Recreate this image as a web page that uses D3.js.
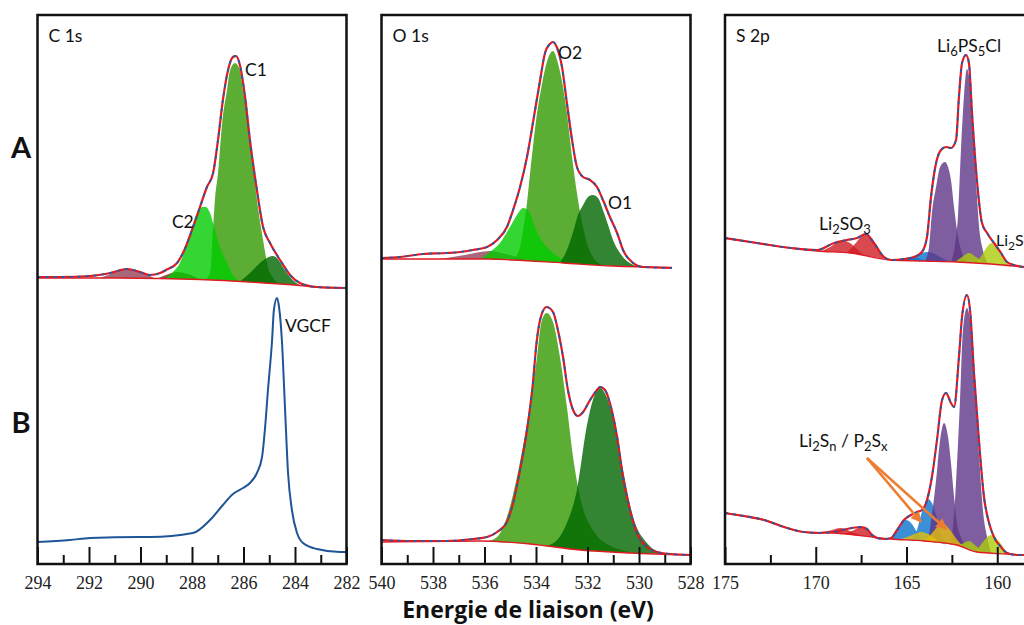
<!DOCTYPE html>
<html><head><meta charset="utf-8">
<script src="https://cdn.jsdelivr.net/npm/d3@7"></script>
<style>
body{margin:0;background:#fff;}
svg{display:block;}
</style></head><body>
<svg id="chart" width="1024" height="625"></svg>
<script>
// ================= DATA (binding energy eV, intensity a.u.) =================
const c1sTicks = [294,292,290,288,286,284,282];
const c1sMinor = [293,291,289,287,285,283];
const o1sTicks = [540,538,536,534,532,530,528];
const o1sMinor = [539,537,535,533,531,529];
const s2pTicks = [175,170,165,160];
const s2pMinor = [172.5,167.5,162.5];

// ---- C 1s, row A ----
const c1sA_env = [[294.00,9.2],[293.13,9.2],[291.96,9.6],[291.18,10.8],[290.52,12.4],[290.02,11.2],[289.63,10.0],[289.24,10.8],[289.01,12.0],[288.58,14.8],[288.35,18.8],[287.96,29.2],[287.69,37.2],[287.42,45.2],[287.18,50.8],[286.99,64.0],[286.80,80.0],[286.60,92.0],[286.41,97.2],[286.29,97.6],[286.14,94.0],[285.94,81.2],[285.75,64.0],[285.48,44.0],[285.24,29.2],[284.97,22.8],[284.58,16.0],[284.19,10.0],[283.81,6.8],[283.15,5.2],[282.00,4.8]];
const c1sA_base = [[294.0,8.8],[290.8,8.8],[287.69,8.2],[285.75,7.2],[283.81,5.8],[283.03,5.0],[282.0,4.8]];
const c1sA_C1 = [[287.50,8.2],[287.30,10.8],[287.18,29.2],[287.11,40.0],[286.99,50.8],[286.83,70.8],[286.64,84.0],[286.52,92.0],[286.33,94.8],[286.14,92.0],[286.02,84.0],[285.83,70.8],[285.63,53.2],[285.44,37.2],[285.24,24.0],[285.05,13.2],[284.85,8.8],[284.58,7.6]];
const c1sA_C2 = [[289.05,8.8],[288.74,11.2],[288.47,14.8],[288.19,22.8],[288.00,29.2],[287.81,34.8],[287.61,37.2],[287.46,37.2],[287.30,34.8],[287.11,28.0],[286.91,21.2],[286.64,14.8],[286.41,10.0],[286.14,7.6]];
const c1sA_C3 = [[286.14,7.6],[285.75,10.8],[285.36,14.8],[285.09,16.8],[284.89,17.6],[284.70,16.8],[284.47,13.2],[284.19,9.2],[283.81,6.0],[283.53,5.2]];
const c1sA_C4 = [[291.57,8.8],[291.07,10.8],[290.52,12.4],[290.02,11.2],[289.63,9.6],[289.44,8.8]];
const c1sA_C5 = [[289.36,8.6],[289.01,10.0],[288.58,11.2],[288.16,10.4],[287.69,8.8]];

// ---- C 1s, row B (VGCF) ----
const c1sB_env = [[294.00,9.2],[292.74,10.0],[291.96,10.8],[290.02,11.2],[289.63,11.2],[287.96,12.8],[287.30,18.0],[286.80,24.0],[286.41,28.4],[286.02,30.8],[285.75,32.8],[285.48,36.8],[285.28,43.2],[285.17,54.0],[285.05,70.0],[284.89,90.0],[284.82,102.0],[284.70,106.8],[284.62,103.2],[284.51,90.0],[284.39,63.2],[284.27,36.8],[284.12,22.0],[283.92,12.8],[283.69,8.8],[283.15,6.4],[282.25,5.2],[282.00,5.2]];

// ---- O 1s, row A ----
const o1sA_env = [[540.00,16.8],[539.28,17.2],[538.39,18.4],[537.46,18.8],[536.95,19.2],[536.45,20.0],[535.90,21.2],[535.51,24.0],[535.13,29.2],[534.89,36.0],[534.62,45.2],[534.35,57.2],[534.12,70.8],[533.84,88.0],[533.65,98.8],[533.46,102.4],[533.34,103.2],[533.18,100.8],[532.99,93.2],[532.80,78.8],[532.60,64.0],[532.41,53.2],[532.17,49.2],[531.90,48.0],[531.63,45.2],[531.40,40.0],[531.13,33.2],[530.85,26.8],[530.62,20.0],[530.23,14.8],[529.84,13.2],[528.72,12.8]];
const o1sA_base = [[540.00,16.4],[535.79,16.4],[534.89,16.0],[532.95,14.8],[531.01,13.6],[528.72,13.0]];
const o1sA_O2 = [[534.89,16.0],[534.62,21.2],[534.50,28.0],[534.35,38.8],[534.23,50.8],[534.12,61.2],[533.98,73.2],[533.79,85.2],[533.59,94.8],[533.34,99.6],[533.15,94.8],[532.95,85.2],[532.80,74.8],[532.60,57.2],[532.41,42.8],[532.21,30.8],[532.02,22.8],[531.79,17.2],[531.40,14.8]];
const o1sA_O3 = [[536.17,17.6],[535.79,19.2],[535.40,22.8],[535.01,29.2],[534.74,34.0],[534.50,36.8],[534.23,34.8],[534.04,29.2],[533.79,24.0],[533.46,20.0],[533.07,16.8],[532.68,15.2]];
const o1sA_O1 = [[533.07,16.0],[532.80,20.0],[532.56,27.2],[532.37,34.0],[532.17,38.0],[531.98,41.2],[531.79,42.0],[531.59,40.8],[531.40,36.0],[531.20,30.0],[531.01,24.0],[530.74,18.8],[530.47,15.6],[529.96,13.2]];
const o1sA_O4 = [[537.73,16.4],[536.76,18.0],[535.79,19.6],[535.34,18.8],[534.62,16.8],[534.23,16.0]];

// ---- O 1s, row B ----
const o1sB_env = [[540.00,10.0],[538.78,9.6],[537.46,9.6],[536.45,10.4],[535.90,11.2],[535.51,13.2],[535.13,17.2],[534.89,24.8],[534.62,38.0],[534.35,54.0],[534.12,72.8],[533.98,88.8],[533.79,100.0],[533.59,103.2],[533.34,101.2],[533.15,94.0],[532.95,83.2],[532.76,70.0],[532.56,62.0],[532.37,59.6],[532.17,61.2],[531.90,66.0],[531.63,70.0],[531.51,71.2],[531.32,70.0],[531.13,64.8],[530.85,51.2],[530.62,35.2],[530.35,22.0],[530.08,12.8],[529.69,7.2],[529.30,5.2],[528.80,4.4],[528.00,4.0]];
const o1sB_base = [[540.00,9.2],[536.17,9.6],[534.23,8.4],[532.29,6.0],[530.35,4.8],[528.00,4.0]];
const o1sB_O2 = [[535.90,9.2],[535.51,11.2],[535.13,19.2],[534.74,35.2],[534.35,56.8],[533.96,83.2],[533.79,97.2],[533.59,100.8],[533.34,97.2],[533.07,83.2],[532.80,63.2],[532.56,43.2],[532.29,27.2],[531.79,14.0],[531.01,7.2],[530.54,5.6],[530.20,4.7]];
const o1sB_O1 = [[533.60,8.0],[533.18,10.0],[532.80,16.8],[532.41,30.0],[532.02,56.0],[531.79,66.0],[531.51,70.8],[531.24,66.8],[531.01,59.2],[530.62,38.0],[530.23,19.2],[529.69,8.8],[529.07,4.8],[528.70,4.2]];

// ---- S 2p, row A ----
const s2pA_env = [[175.00,24.8],[173.24,22.8],[171.36,20.8],[169.93,20.0],[168.99,22.8],[168.28,24.0],[167.73,24.8],[167.23,26.4],[166.79,22.8],[166.24,17.2],[165.85,16.0],[165.14,16.4],[164.59,17.2],[164.15,19.2],[163.87,25.2],[163.65,41.2],[163.37,54.8],[163.10,60.0],[162.82,61.2],[162.55,60.8],[162.27,64.0],[162.11,81.2],[161.94,94.8],[161.72,98.0],[161.56,94.8],[161.39,74.8],[161.12,48.0],[160.84,30.8],[160.56,26.8],[160.18,22.8],[159.79,18.8],[159.46,15.2],[159.08,14.0],[158.53,13.2]];
const s2pA_base = [[175.00,24.8],[173.24,22.8],[171.36,20.8],[169.93,19.6],[168.11,18.8],[165.85,16.0],[164.04,15.6],[162.22,15.2],[160.34,14.4],[158.53,13.2]];
const s2pA_red1 = [[169.71,19.6],[169.21,21.2],[168.77,23.2],[168.44,23.6],[168.11,22.8],[167.73,20.4],[167.34,18.4]];
const s2pA_red2 = [[168.28,18.8],[167.84,22.4],[167.51,25.2],[167.23,26.4],[166.96,24.8],[166.63,21.2],[166.24,17.6],[165.91,16.4]];
const s2pA_blue2 = [[165.47,16.0],[165.08,16.8],[164.70,17.2],[164.37,16.8],[163.98,15.6]];
const s2pA_blue1 = [[165.08,16.0],[164.53,17.6],[164.15,18.8],[163.87,19.2],[163.54,18.8],[163.15,17.2],[162.60,15.6]];
const s2pA_P1 = [[163.98,15.6],[163.76,21.2],[163.60,34.8],[163.37,45.2],[163.15,53.2],[162.88,55.2],[162.71,53.2],[162.55,48.0],[162.38,37.2],[162.22,28.0],[161.94,18.8],[161.67,16.0]];
const s2pA_P2 = [[162.55,15.6],[162.33,22.0],[162.16,34.0],[162.00,60.0],[161.83,82.0],[161.67,92.4],[161.50,86.0],[161.34,70.0],[161.17,48.0],[161.01,30.0],[160.79,20.0],[160.51,15.6]];
const s2pA_YG1 = [[162.33,15.2],[161.94,17.2],[161.56,18.8],[161.17,17.2],[160.73,14.8]];
const s2pA_YG2 = [[161.17,14.8],[160.84,18.0],[160.56,21.2],[160.34,22.8],[160.07,21.2],[159.74,17.6],[159.30,14.4]];

// ---- S 2p, row B ----
const s2pB_env = [[175.00,20.8],[173.95,19.6],[172.85,18.0],[171.75,15.2],[170.65,13.2],[169.93,12.8],[168.99,13.2],[168.28,14.4],[167.51,15.2],[167.18,14.4],[166.79,11.2],[166.24,10.4],[165.85,10.8],[165.52,14.0],[165.14,18.0],[164.75,20.0],[164.42,21.2],[164.15,22.0],[163.87,26.0],[163.60,35.2],[163.32,50.0],[163.04,66.0],[162.82,68.8],[162.55,64.8],[162.38,63.2],[162.11,83.2],[161.94,99.2],[161.67,108.0],[161.50,102.0],[161.28,76.8],[161.01,50.0],[160.73,27.2],[160.45,16.8],[160.18,11.2],[159.79,7.2],[159.46,4.8],[158.91,4.0],[158.53,4.0]];
const s2pB_base = [[175.00,20.8],[172.85,18.0],[170.65,13.2],[168.99,12.8],[165.85,10.4],[164.04,9.6],[162.22,8.0],[161.12,5.2],[159.46,4.4],[158.53,4.0]];
const s2pB_red1 = [[170.04,12.4],[169.33,13.6],[168.61,14.8],[168.00,13.2],[167.45,12.0]];
const s2pB_red2 = [[168.39,12.0],[167.89,14.0],[167.45,15.2],[167.01,13.2],[166.57,11.2]];
const s2pB_blue2 = [[165.91,10.4],[165.52,14.0],[165.25,17.2],[165.03,18.0],[164.75,16.8],[164.42,13.2],[164.04,10.0]];
const s2pB_blue1 = [[164.75,10.0],[164.42,14.0],[164.15,21.2],[163.93,25.2],[163.82,26.4],[163.60,24.8],[163.37,20.0],[163.15,14.0],[162.82,9.6]];
const s2pB_Y1 = [[165.36,9.6],[164.81,11.6],[164.20,13.2],[163.71,12.0],[163.15,9.6]];
const s2pB_Y2 = [[163.98,9.6],[163.54,13.2],[163.04,16.8],[162.60,14.0],[162.16,9.6],[161.78,7.6]];
const s2pB_P1 = [[163.82,8.8],[163.60,20.0],[163.37,34.0],[163.15,50.0],[162.93,56.8],[162.71,51.2],[162.55,40.8],[162.38,27.2],[162.22,16.8],[162.00,11.2],[161.72,8.4]];
const s2pB_P2 = [[162.60,8.0],[162.38,20.0],[162.22,40.0],[162.05,66.0],[161.89,94.0],[161.67,102.8],[161.50,98.0],[161.28,76.8],[161.12,58.0],[160.95,38.0],[160.79,22.0],[160.56,11.2],[160.34,6.8]];
const s2pB_YG1 = [[162.16,6.8],[161.83,8.8],[161.56,9.6],[161.23,8.0],[160.84,5.6]];
const s2pB_YG2 = [[161.17,5.6],[160.79,9.2],[160.34,12.0],[159.96,10.0],[159.52,5.6],[159.30,4.4]];

// ---- annotations (text, energy, intensity) ----
const c1sA_labels = [["C1",285.94,89.6],["C2",288.78,28.8]];
const c1sB_labels = [["VGCF",284.39,93.2]];
const o1sA_labels = [["O2",533.15,96.4],["O1",531.20,36.4]];
const s2pA_labels = [["Li{6}PS{5}Cl",163.32,99.2],["Li{2}SO{3}",169.82,28.0],["Li{2}S",160.07,21.6]];
const s2pB_labels = [["Li{2}S{n} / P{2}S{x}",170.92,47.2]];
const s2pB_arrowFrom = [167.18,42.8];
const s2pB_arrowTo = [[164.20,17.2],[162.82,14.4]];

// ================= STYLE / LAYOUT =================
const COL = {med:'#339900', bright:'#00CC00', dark:'#006600', mauve:'#924259', brown:'#6D311A',
  red:'#CF1D24', blue:'#0973CC', purple:'#5E3686', yellow:'#E6BE09', yg:'#ACCC0A'};
const TOP = 15, AXIS_Y = 564;
const yA = d3.scaleLinear().domain([0,100]).range([300,50]);
const yB = d3.scaleLinear().domain([0,100]).range([565,315]);

const panels = [
  {title:'C 1s', domain:[294,282], range:[37.5,346.5], frameR:346.5, ticks:c1sTicks, minor:c1sMinor,
   A:{env:c1sA_env, base:c1sA_base, labels:c1sA_labels,
      comps:[[c1sA_C4,COL.mauve],[c1sA_C5,COL.brown],[c1sA_C1,COL.med],[c1sA_C2,COL.bright],[c1sA_C3,COL.dark]]},
   B:{plain:c1sB_env, labels:c1sB_labels}},
  {title:'O 1s', domain:[540,528], range:[381.5,690.5], frameR:690.5, ticks:o1sTicks, minor:o1sMinor,
   A:{env:o1sA_env, base:o1sA_base, labels:o1sA_labels,
      comps:[[o1sA_O4,COL.mauve],[o1sA_O2,COL.med],[o1sA_O3,COL.bright],[o1sA_O1,COL.dark]]},
   B:{env:o1sB_env, base:o1sB_base, labels:[],
      comps:[[o1sB_O2,COL.med],[o1sB_O1,COL.dark]]}},
  {title:'S 2p', domain:[175,158.3], range:[725,1028.1], frameR:1032, ticks:s2pTicks, minor:s2pMinor,
   A:{env:s2pA_env, base:s2pA_base, labels:s2pA_labels,
      comps:[[s2pA_red1,COL.red],[s2pA_red2,COL.red],[s2pA_blue2,COL.blue],[s2pA_blue1,COL.blue],
             [s2pA_P1,COL.purple],[s2pA_P2,COL.purple],[s2pA_YG1,COL.yg],[s2pA_YG2,COL.yg]]},
   B:{env:s2pB_env, base:s2pB_base, labels:s2pB_labels,
      comps:[[s2pB_red1,COL.red],[s2pB_red2,COL.red],[s2pB_blue2,COL.blue],[s2pB_blue1,COL.blue],
             [s2pB_P1,COL.purple],[s2pB_P2,COL.purple],[s2pB_Y1,COL.yellow],[s2pB_Y2,COL.yellow],
             [s2pB_YG1,COL.yg],[s2pB_YG2,COL.yg]],
      arrow:{from:s2pB_arrowFrom, to:s2pB_arrowTo}}}
];

const svg = d3.select('#chart');
const SANS = 'Lato, "Open Sans", sans-serif';

svg.append('defs').append('marker')
  .attr('id','arrowhead').attr('viewBox','0 0 10 10').attr('refX',9).attr('refY',5)
  .attr('markerWidth',4.2).attr('markerHeight',4.2).attr('orient','auto')
  .append('path').attr('d','M0,0 L10,5 L0,10 z').attr('fill','#ED7D31');

function richText(sel, str, subSize){
  const parts = str.split(/(\{[^}]*\})/).filter(s=>s.length);
  let shifted = false;
  parts.forEach(s=>{
    const isSub = s[0]==='{';
    const t = sel.append('tspan').text(isSub ? s.slice(1,-1) : s);
    if (isSub){ t.attr('font-size',subSize); if(!shifted){ t.attr('dy',4); shifted=true; } }
    else if (shifted){ t.attr('dy',-4); shifted=false; }
  });
}

function drawRow(g, x, y, row){
  if (row.plain){
    g.append('path').attr('d', d3.line().x(d=>x(d[0])).y(d=>y(d[1])).curve(d3.curveMonotoneX)(row.plain))
      .attr('fill','none').attr('stroke','#1F5597').attr('stroke-width',2);
  } else {
    const base = d3.scaleLinear().domain(row.base.map(d=>d[0])).range(row.base.map(d=>d[1])).clamp(true);
    const area = d3.area().x(d=>x(d[0])).y0(d=>y(base(d[0])))
      .y1((d,i,arr)=>y((i===0||i===arr.length-1) ? base(d[0]) : Math.max(d[1], base(d[0]))))
      .curve(d3.curveMonotoneX);
    row.comps.forEach(([data,color])=>{
      g.append('path').attr('d', area(data)).attr('fill', color).attr('fill-opacity',0.8);
    });
    const line = d3.line().x(d=>x(d[0])).y(d=>y(d[1])).curve(d3.curveMonotoneX);
    g.append('path').attr('d', line(row.base)).attr('fill','none').attr('stroke','#E01A22').attr('stroke-width',1.3);
    g.append('path').attr('d', line(row.env)).attr('fill','none').attr('stroke','#E01A22').attr('stroke-width',2.2);
    g.append('path').attr('d', line(row.env)).attr('fill','none').attr('stroke','#1B5DAA').attr('stroke-width',1.8)
      .attr('stroke-dasharray','3,5');
  }
  (row.labels||[]).forEach(([txt,e,v])=>{
    const small = txt === 'Li{2}S';
    const t = g.append('text').attr('x',x(e)).attr('y',y(v)).attr('font-family',SANS)
      .attr('font-size', small ? '16px' : '17.5px').attr('fill','#111');
    richText(t, txt, small ? '12px' : '13px');
  });
  if (row.arrow){
    row.arrow.to.forEach(tp=>{
      g.append('line').attr('x1',x(row.arrow.from[0])).attr('y1',y(row.arrow.from[1]))
        .attr('x2',x(tp[0])).attr('y2',y(tp[1])).attr('stroke','#ED7D31').attr('stroke-width',2.6)
        .attr('marker-end','url(#arrowhead)');
    });
  }
}

panels.forEach(p=>{
  const x = d3.scaleLinear().domain(p.domain).range(p.range);
  const g = svg.append('g');
  drawRow(g, x, yA, p.A);
  drawRow(g, x, yB, p.B);
  svg.append('rect').attr('x',p.range[0]).attr('y',TOP).attr('width',p.frameR-p.range[0]).attr('height',AXIS_Y-TOP)
    .attr('fill','none').attr('stroke','#111').attr('stroke-width',2.5);
  svg.append('text').attr('x',p.range[0]+11).attr('y',42).attr('font-family',SANS).attr('font-size','17.5px')
    .attr('fill','#111').text(p.title);
  const ax = svg.append('g').attr('transform',`translate(0,${AXIS_Y})`)
    .call(d3.axisBottom(x).tickValues(p.ticks).tickFormat(d3.format('d')).tickSizeInner(-17).tickSizeOuter(0).tickPadding(12));
  ax.select('.domain').remove();
  ax.selectAll('line').attr('stroke','#111').attr('stroke-width',2);
  ax.selectAll('text').attr('font-family','"Liberation Serif", "Times New Roman", serif').attr('font-size','18px').attr('fill','#222');
  const mx = svg.append('g').attr('transform',`translate(0,${AXIS_Y})`)
    .call(d3.axisBottom(x).tickValues(p.minor).tickFormat('').tickSizeInner(-9).tickSizeOuter(0));
  mx.select('.domain').remove();
  mx.selectAll('line').attr('stroke','#111').attr('stroke-width',2);
});

svg.append('text').attr('x',21).attr('y',158).attr('text-anchor','middle').attr('font-family',SANS)
  .attr('font-weight','bold').attr('font-size','29px').attr('fill','#111').text('A');
svg.append('text').attr('x',21).attr('y',433).attr('text-anchor','middle').attr('font-family',SANS)
  .attr('font-weight','bold').attr('font-size','29px').attr('fill','#111').text('B');
svg.append('text').attr('x',528).attr('y',618).attr('text-anchor','middle').attr('font-family','"Open Sans", Lato, sans-serif')
  .attr('font-weight','bold').attr('font-size','23px').attr('fill','#111').text('Energie de liaison (eV)');
</script>
</body></html>
